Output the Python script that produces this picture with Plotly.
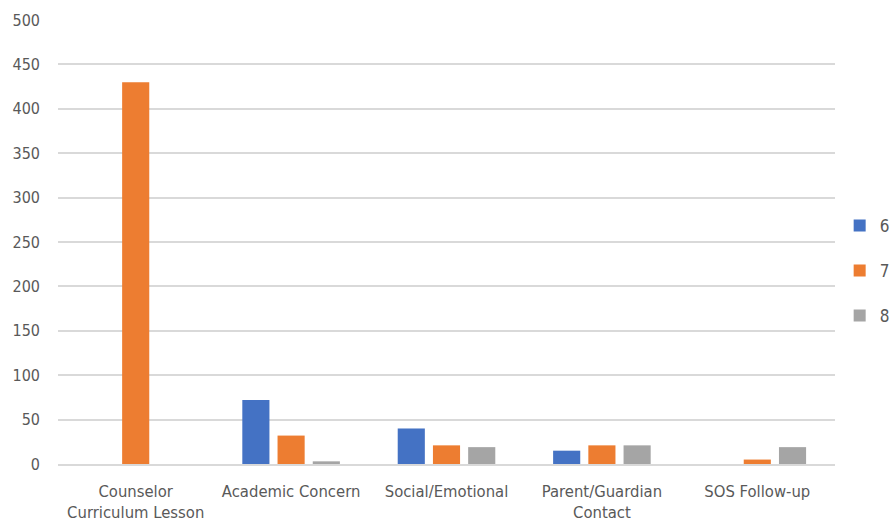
import plotly.graph_objects as go

categories = ["Counselor<br>Curriculum Lesson", "Academic Concern", "Social/Emotional",
              "Parent/Guardian<br>Contact", "SOS Follow-up"]
series_names = ["6", "7", "8"]
grade6 = [0, 72, 40, 15, 0]
grade7 = [430, 32, 21, 21, 5]
grade8 = [0, 3, 19, 21, 19]
colors = ["#4472C4", "#ED7D31", "#A5A5A5"]
y_ticks = [0, 50, 100, 150, 200, 250, 300, 350, 400, 450, 500]

fig = go.Figure()
for name, vals, c in zip(series_names, [grade6, grade7, grade8], colors):
    fig.add_trace(go.Bar(x=categories, y=vals, name=name, marker_color=c,
                         marker_line_width=0, legendgroup=name))

font_family = "DejaVu Sans Condensed, Liberation Sans Narrow, sans-serif"
fig.update_layout(
    width=896, height=530,
    margin=dict(l=58, r=61, t=20, b=66, autoexpand=False),
    paper_bgcolor="white", plot_bgcolor="white",
    barmode="group", bargap=0.32, bargroupgap=0.23,
    font=dict(family=font_family, size=15, color="#595959"),
    xaxis=dict(showgrid=False, showline=True, linecolor="#D9D9D9", linewidth=1.5,
               ticks="", tickfont=dict(size=16.5), ticklabelstandoff=11, fixedrange=True,
               automargin=False),
    yaxis=dict(range=[0, 500], tickvals=y_ticks, showgrid=True, gridcolor="#D9D9D9",
               gridwidth=1.5, zeroline=False, ticks="", ticklabelstandoff=17,
               tickfont=dict(size=16), automargin=False),
    legend=dict(x=1.006, xanchor="left", y=0.435, yanchor="middle", itemwidth=30,
                font=dict(size=17), tracegroupgap=20),
)
fig.write_html("out.html")
